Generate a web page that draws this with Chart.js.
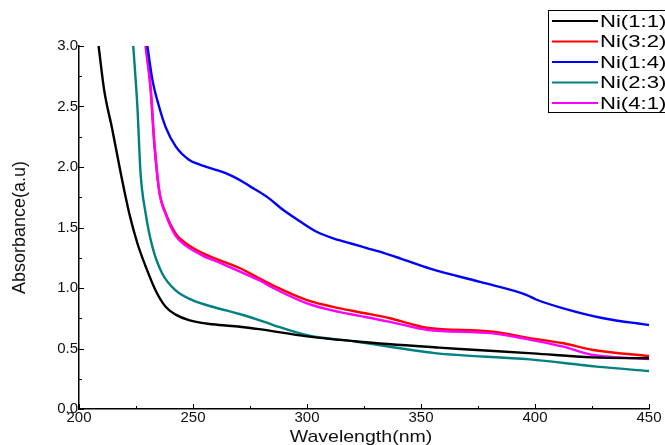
<!DOCTYPE html>
<html>
<head>
<meta charset="utf-8">
<script src="https://cdn.jsdelivr.net/npm/chart.js@4/dist/chart.umd.min.js"></script>
<style>
  html, body { margin: 0; padding: 0; background: #fff; }
  canvas { display: block; }
</style>
</head>
<body>
<canvas id="c" width="665" height="445"></canvas>
<script>
// ---- data ----
const seriesNames = ["Ni(1:1)", "Ni(3:2)", "Ni(1:4)", "Ni(2:3)", "Ni(4:1)"];
const seriesColors = ["#000000", "#ff0000", "#0000ff", "#008080", "#ff00ff"];
const drawOrder = [1, 2, 1, 1, 1];

const wl11 = [208.6, 211, 214.6, 218.3, 222, 225.6, 229.2, 233.6, 238, 242.4, 248.2, 258.5, 270.6, 279, 300, 323, 358, 367, 399, 425, 450];
const ni11 = [3.0, 2.64, 2.31, 1.95, 1.62, 1.37, 1.18, 0.98, 0.845, 0.78, 0.735, 0.70, 0.68, 0.66, 0.60, 0.556, 0.507, 0.496, 0.46, 0.427, 0.419];

const wl32 = [229.2, 231.4, 232.9, 235.1, 238, 242.4, 246.8, 254, 262.9, 270.6, 279, 285.2, 300, 314.5, 323, 336.4, 345, 352.5, 381.6, 396.4, 412.4, 425.5, 450];
const ni32 = [3.0, 2.64, 2.22, 1.81, 1.62, 1.45, 1.37, 1.29, 1.22, 1.163, 1.08, 1.02, 0.90, 0.832, 0.80, 0.75, 0.705, 0.672, 0.639, 0.59, 0.543, 0.488, 0.438];

const wl14 = [230, 232.2, 235.1, 238, 242.4, 248.2, 253, 260.4, 264.3, 267.7, 271.6, 275, 282.3, 289.6, 297, 304.2, 311.5, 318.9, 326.2, 333.5, 340.8, 354, 375.9, 396.4, 400.5, 412.4, 430, 450];
const ni14 = [3.0, 2.72, 2.5, 2.33, 2.17, 2.06, 2.02, 1.975, 1.95, 1.92, 1.88, 1.84, 1.755, 1.645, 1.55, 1.465, 1.41, 1.37, 1.33, 1.29, 1.245, 1.16, 1.05, 0.942, 0.905, 0.832, 0.75, 0.694];

const wl23 = [223.8, 225.6, 227, 229.2, 232.2, 236.5, 242.4, 249.7, 258.5, 270.4, 279, 285.2, 300, 321.8, 356, 397.8, 427, 450];
const ni23 = [3.0, 2.5, 1.95, 1.62, 1.34, 1.12, 0.98, 0.90, 0.845, 0.785, 0.735, 0.694, 0.61, 0.556, 0.462, 0.41, 0.35, 0.314];

const wl41 = [229.5, 231.6, 233.1, 235.3, 238.2, 242.4, 246.8, 254, 262.9, 270.6, 279, 285.2, 300, 314.5, 323, 336.4, 345, 352.5, 381.6, 396.4, 412.4, 425.5, 450];
const ni41 = [3.0, 2.62, 2.2, 1.79, 1.60, 1.43, 1.35, 1.27, 1.20, 1.135, 1.065, 1.0, 0.873, 0.80, 0.77, 0.72, 0.683, 0.655, 0.625, 0.578, 0.515, 0.446, 0.413];

const xTicks = [200, 250, 300, 350, 400, 450];
const yTicks = [0.0, 0.5, 1.0, 1.5, 2.0, 2.5, 3.0];
const xTitle = "Wavelength(nm)";
const yTitle = "Absorbance(a.u)";

const xs = [wl11, wl32, wl14, wl23, wl41];
const ys = [ni11, ni32, ni14, ni23, ni41];

const FONT = "'Liberation Sans', Arial, sans-serif";

const datasets = seriesNames.map((name, i) => ({
  label: name,
  data: xs[i].map((x, k) => ({ x: x, y: ys[i][k] })),
  borderColor: seriesColors[i],
  backgroundColor: seriesColors[i],
  borderWidth: 2.4,
  pointRadius: 0,
  fill: false,
  order: drawOrder[i],
  cubicInterpolationMode: 'monotone'
}));

// inward tick marks drawn through the scales
const tickPlugin = {
  id: 'inTicks',
  afterDraw(chart) {
    const ctx = chart.ctx;
    const xs_ = chart.scales.x, ys_ = chart.scales.y;
    const area = chart.chartArea;
    ctx.save();
    ctx.strokeStyle = '#000';
    ctx.lineWidth = 1;
    for (let v = 200; v <= 450; v += 25) {
      const px = Math.round(xs_.getPixelForValue(v)) + 0.5;
      const len = (v % 50 === 0) ? 5 : 3;
      ctx.beginPath(); ctx.moveTo(px, area.bottom); ctx.lineTo(px, area.bottom - len); ctx.stroke();
    }
    for (let v = 0; v <= 3.0001; v += 0.25) {
      const py = Math.round(ys_.getPixelForValue(v)) + 0.5;
      const major = Math.abs(v * 2 - Math.round(v * 2)) < 1e-6;
      const len = major ? 5 : 3;
      ctx.beginPath(); ctx.moveTo(area.left, py); ctx.lineTo(area.left + len, py); ctx.stroke();
    }
    // x axis title (slightly wide lettering like the reference)
    ctx.fillStyle = '#111';
    ctx.font = "17px " + FONT;
    ctx.textAlign = 'center';
    ctx.textBaseline = 'middle';
    ctx.translate((area.left + area.right) / 2 - 3, 437);
    ctx.scale(1.15, 1);
    ctx.fillText(xTitle, 0, 0);
    ctx.restore();
  }
};

// legend box at top right (clipped by the canvas edge like the reference)
const legendPlugin = {
  id: 'boxLegend',
  afterDraw(chart) {
    const ctx = chart.ctx;
    ctx.save();
    ctx.fillStyle = '#fff';
    ctx.fillRect(548, 10, 130, 102);
    ctx.strokeStyle = '#000';
    ctx.lineWidth = 1;
    ctx.strokeRect(548.5, 10.5, 130, 102);
    ctx.textBaseline = 'middle';
    ctx.textAlign = 'left';
    seriesNames.forEach((name, i) => {
      const y = 21 + i * 20.5;
      ctx.strokeStyle = seriesColors[i];
      ctx.lineWidth = 2;
      ctx.beginPath(); ctx.moveTo(552, y); ctx.lineTo(598, y); ctx.stroke();
      ctx.save();
      ctx.fillStyle = '#000';
      ctx.font = "17px " + FONT;
      ctx.translate(600, y + 1);
      ctx.scale(1.3, 1);
      ctx.fillText(name, 0, 0);
      ctx.restore();
    });
    ctx.restore();
  }
};

new Chart(document.getElementById('c'), {
  type: 'line',
  data: { datasets: datasets },
  options: {
    responsive: false,
    animation: false,
    layout: { padding: { top: 46, right: 16, left: 0, bottom: 0 } },
    plugins: { legend: { display: false }, tooltip: { enabled: false } },
    scales: {
      x: {
        type: 'linear', min: 200, max: 450,
        afterBuildTicks(s) { s.ticks = xTicks.map(v => ({ value: v })); },
        ticks: { padding: 0, color: '#111', font: { family: FONT, size: 15 }, maxRotation: 0,
                 callback: v => String(v) },
        grid: { display: false, drawTicks: false },
        border: { display: true, color: '#000', width: 1.5 },
        title: { display: false },
        afterFit(s) { s.height = 36; }
      },
      y: {
        type: 'linear', min: 0, max: 3,
        afterBuildTicks(s) { s.ticks = yTicks.map(v => ({ value: v })); },
        ticks: { padding: 1, color: '#111', font: { family: FONT, size: 15 },
                 callback: v => Number(v).toFixed(1) },
        grid: { display: false, drawTicks: false },
        border: { display: true, color: '#000', width: 1.5 },
        title: { display: true, text: yTitle, color: '#111',
                 font: { family: FONT, size: 18, lineHeight: 1 }, padding: { top: 11, bottom: 0 } },
        afterFit(s) { s.width = 79; }
      }
    }
  },
  plugins: [tickPlugin, legendPlugin]
});
</script>
</body>
</html>
